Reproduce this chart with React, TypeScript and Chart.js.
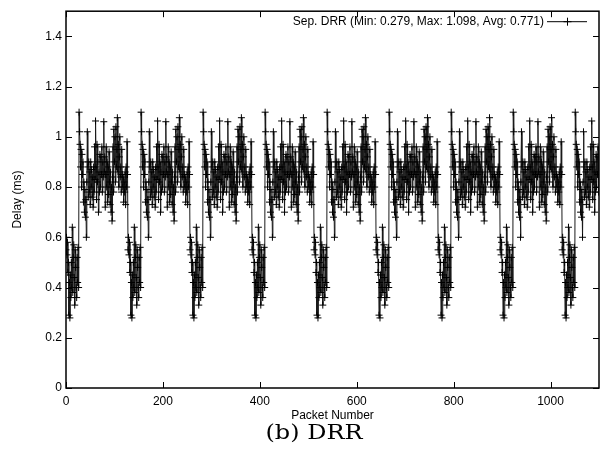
import React, { useEffect, useRef } from 'react';
import { Chart, registerables } from 'chart.js';

Chart.register(...registerables);

const seriesLabel = 'Sep. DRR (Min: 0.279, Max: 1.098, Avg: 0.771)';
const xTitle = 'Packet Number';
const yTitle = 'Delay (ms)';
const caption = '(b) DRR';
const xTicks = [0, 200, 400, 600, 800, 1000];
const yTicks = [0, 0.2, 0.4, 0.6, 0.8, 1, 1.2, 1.4];
const xMax = 1100;
const yMax = 1.5;

// delay per packet (ms), packet 0..1099 (pattern repeats every 128 packets)
const delays: number[] = [
  // packets 0-127
  0.55,0.60,0.53,0.58,0.46,0.50,0.29,0.42,0.279,0.45,0.36,0.50,0.40,0.64,0.38,0.52,
  0.57,0.44,0.33,0.55,0.48,0.40,0.36,0.52,0.42,0.56,0.40,1.098,1.02,0.97,0.88,0.95,
  0.80,0.93,0.85,0.90,0.74,0.82,0.70,0.79,0.68,0.75,0.60,0.82,1.02,0.88,0.76,0.90,
  0.78,0.86,0.73,0.90,0.80,0.87,0.76,0.84,0.72,0.88,0.78,0.96,0.83,1.063,0.88,0.75,
  0.97,0.82,0.90,0.70,0.86,0.78,0.93,0.80,0.92,0.85,0.96,0.78,0.90,0.84,1.06,0.86,
  0.92,0.72,0.85,0.96,0.80,0.90,0.74,0.88,0.77,0.94,0.82,0.73,0.86,0.70,0.80,0.665,
  0.84,0.96,0.78,1.03,0.90,1.00,0.82,1.04,0.88,0.95,1.076,0.86,0.97,0.80,0.92,1.00,
  0.84,0.88,0.78,0.95,0.85,0.80,0.84,0.74,0.82,0.78,0.86,0.73,0.88,0.80,0.98,0.85,
  // packets 128-255
  0.55,0.60,0.53,0.58,0.46,0.50,0.29,0.42,0.279,0.45,0.36,0.50,0.40,0.64,0.38,0.52,
  0.57,0.44,0.33,0.55,0.48,0.40,0.36,0.52,0.42,0.56,0.40,1.098,1.02,0.97,0.88,0.95,
  0.80,0.93,0.85,0.90,0.74,0.82,0.70,0.79,0.68,0.75,0.60,0.82,1.02,0.88,0.76,0.90,
  0.78,0.86,0.73,0.90,0.80,0.87,0.76,0.84,0.72,0.88,0.78,0.96,0.83,1.063,0.88,0.75,
  0.97,0.82,0.90,0.70,0.86,0.78,0.93,0.80,0.92,0.85,0.96,0.78,0.90,0.84,1.06,0.86,
  0.92,0.72,0.85,0.96,0.80,0.90,0.74,0.88,0.77,0.94,0.82,0.73,0.86,0.70,0.80,0.665,
  0.84,0.96,0.78,1.03,0.90,1.00,0.82,1.04,0.88,0.95,1.076,0.86,0.97,0.80,0.92,1.00,
  0.84,0.88,0.78,0.95,0.85,0.80,0.84,0.74,0.82,0.78,0.86,0.73,0.88,0.80,0.98,0.85,
  // packets 256-383
  0.55,0.60,0.53,0.58,0.46,0.50,0.29,0.42,0.279,0.45,0.36,0.50,0.40,0.64,0.38,0.52,
  0.57,0.44,0.33,0.55,0.48,0.40,0.36,0.52,0.42,0.56,0.40,1.098,1.02,0.97,0.88,0.95,
  0.80,0.93,0.85,0.90,0.74,0.82,0.70,0.79,0.68,0.75,0.60,0.82,1.02,0.88,0.76,0.90,
  0.78,0.86,0.73,0.90,0.80,0.87,0.76,0.84,0.72,0.88,0.78,0.96,0.83,1.063,0.88,0.75,
  0.97,0.82,0.90,0.70,0.86,0.78,0.93,0.80,0.92,0.85,0.96,0.78,0.90,0.84,1.06,0.86,
  0.92,0.72,0.85,0.96,0.80,0.90,0.74,0.88,0.77,0.94,0.82,0.73,0.86,0.70,0.80,0.665,
  0.84,0.96,0.78,1.03,0.90,1.00,0.82,1.04,0.88,0.95,1.076,0.86,0.97,0.80,0.92,1.00,
  0.84,0.88,0.78,0.95,0.85,0.80,0.84,0.74,0.82,0.78,0.86,0.73,0.88,0.80,0.98,0.85,
  // packets 384-511
  0.55,0.60,0.53,0.58,0.46,0.50,0.29,0.42,0.279,0.45,0.36,0.50,0.40,0.64,0.38,0.52,
  0.57,0.44,0.33,0.55,0.48,0.40,0.36,0.52,0.42,0.56,0.40,1.098,1.02,0.97,0.88,0.95,
  0.80,0.93,0.85,0.90,0.74,0.82,0.70,0.79,0.68,0.75,0.60,0.82,1.02,0.88,0.76,0.90,
  0.78,0.86,0.73,0.90,0.80,0.87,0.76,0.84,0.72,0.88,0.78,0.96,0.83,1.063,0.88,0.75,
  0.97,0.82,0.90,0.70,0.86,0.78,0.93,0.80,0.92,0.85,0.96,0.78,0.90,0.84,1.06,0.86,
  0.92,0.72,0.85,0.96,0.80,0.90,0.74,0.88,0.77,0.94,0.82,0.73,0.86,0.70,0.80,0.665,
  0.84,0.96,0.78,1.03,0.90,1.00,0.82,1.04,0.88,0.95,1.076,0.86,0.97,0.80,0.92,1.00,
  0.84,0.88,0.78,0.95,0.85,0.80,0.84,0.74,0.82,0.78,0.86,0.73,0.88,0.80,0.98,0.85,
  // packets 512-639
  0.55,0.60,0.53,0.58,0.46,0.50,0.29,0.42,0.279,0.45,0.36,0.50,0.40,0.64,0.38,0.52,
  0.57,0.44,0.33,0.55,0.48,0.40,0.36,0.52,0.42,0.56,0.40,1.098,1.02,0.97,0.88,0.95,
  0.80,0.93,0.85,0.90,0.74,0.82,0.70,0.79,0.68,0.75,0.60,0.82,1.02,0.88,0.76,0.90,
  0.78,0.86,0.73,0.90,0.80,0.87,0.76,0.84,0.72,0.88,0.78,0.96,0.83,1.063,0.88,0.75,
  0.97,0.82,0.90,0.70,0.86,0.78,0.93,0.80,0.92,0.85,0.96,0.78,0.90,0.84,1.06,0.86,
  0.92,0.72,0.85,0.96,0.80,0.90,0.74,0.88,0.77,0.94,0.82,0.73,0.86,0.70,0.80,0.665,
  0.84,0.96,0.78,1.03,0.90,1.00,0.82,1.04,0.88,0.95,1.076,0.86,0.97,0.80,0.92,1.00,
  0.84,0.88,0.78,0.95,0.85,0.80,0.84,0.74,0.82,0.78,0.86,0.73,0.88,0.80,0.98,0.85,
  // packets 640-767
  0.55,0.60,0.53,0.58,0.46,0.50,0.29,0.42,0.279,0.45,0.36,0.50,0.40,0.64,0.38,0.52,
  0.57,0.44,0.33,0.55,0.48,0.40,0.36,0.52,0.42,0.56,0.40,1.098,1.02,0.97,0.88,0.95,
  0.80,0.93,0.85,0.90,0.74,0.82,0.70,0.79,0.68,0.75,0.60,0.82,1.02,0.88,0.76,0.90,
  0.78,0.86,0.73,0.90,0.80,0.87,0.76,0.84,0.72,0.88,0.78,0.96,0.83,1.063,0.88,0.75,
  0.97,0.82,0.90,0.70,0.86,0.78,0.93,0.80,0.92,0.85,0.96,0.78,0.90,0.84,1.06,0.86,
  0.92,0.72,0.85,0.96,0.80,0.90,0.74,0.88,0.77,0.94,0.82,0.73,0.86,0.70,0.80,0.665,
  0.84,0.96,0.78,1.03,0.90,1.00,0.82,1.04,0.88,0.95,1.076,0.86,0.97,0.80,0.92,1.00,
  0.84,0.88,0.78,0.95,0.85,0.80,0.84,0.74,0.82,0.78,0.86,0.73,0.88,0.80,0.98,0.85,
  // packets 768-895
  0.55,0.60,0.53,0.58,0.46,0.50,0.29,0.42,0.279,0.45,0.36,0.50,0.40,0.64,0.38,0.52,
  0.57,0.44,0.33,0.55,0.48,0.40,0.36,0.52,0.42,0.56,0.40,1.098,1.02,0.97,0.88,0.95,
  0.80,0.93,0.85,0.90,0.74,0.82,0.70,0.79,0.68,0.75,0.60,0.82,1.02,0.88,0.76,0.90,
  0.78,0.86,0.73,0.90,0.80,0.87,0.76,0.84,0.72,0.88,0.78,0.96,0.83,1.063,0.88,0.75,
  0.97,0.82,0.90,0.70,0.86,0.78,0.93,0.80,0.92,0.85,0.96,0.78,0.90,0.84,1.06,0.86,
  0.92,0.72,0.85,0.96,0.80,0.90,0.74,0.88,0.77,0.94,0.82,0.73,0.86,0.70,0.80,0.665,
  0.84,0.96,0.78,1.03,0.90,1.00,0.82,1.04,0.88,0.95,1.076,0.86,0.97,0.80,0.92,1.00,
  0.84,0.88,0.78,0.95,0.85,0.80,0.84,0.74,0.82,0.78,0.86,0.73,0.88,0.80,0.98,0.85,
  // packets 896-1023
  0.55,0.60,0.53,0.58,0.46,0.50,0.29,0.42,0.279,0.45,0.36,0.50,0.40,0.64,0.38,0.52,
  0.57,0.44,0.33,0.55,0.48,0.40,0.36,0.52,0.42,0.56,0.40,1.098,1.02,0.97,0.88,0.95,
  0.80,0.93,0.85,0.90,0.74,0.82,0.70,0.79,0.68,0.75,0.60,0.82,1.02,0.88,0.76,0.90,
  0.78,0.86,0.73,0.90,0.80,0.87,0.76,0.84,0.72,0.88,0.78,0.96,0.83,1.063,0.88,0.75,
  0.97,0.82,0.90,0.70,0.86,0.78,0.93,0.80,0.92,0.85,0.96,0.78,0.90,0.84,1.06,0.86,
  0.92,0.72,0.85,0.96,0.80,0.90,0.74,0.88,0.77,0.94,0.82,0.73,0.86,0.70,0.80,0.665,
  0.84,0.96,0.78,1.03,0.90,1.00,0.82,1.04,0.88,0.95,1.076,0.86,0.97,0.80,0.92,1.00,
  0.84,0.88,0.78,0.95,0.85,0.80,0.84,0.74,0.82,0.78,0.86,0.73,0.88,0.80,0.98,0.85,
  // packets 1024-1099
  0.55,0.60,0.53,0.58,0.46,0.50,0.29,0.42,0.279,0.45,0.36,0.50,0.40,0.64,0.38,0.52,
  0.57,0.44,0.33,0.55,0.48,0.40,0.36,0.52,0.42,0.56,0.40,1.098,1.02,0.97,0.88,0.95,
  0.80,0.93,0.85,0.90,0.74,0.82,0.70,0.79,0.68,0.75,0.60,0.82,1.02,0.88,0.76,0.90,
  0.78,0.86,0.73,0.90,0.80,0.87,0.76,0.84,0.72,0.88,0.78,0.96,0.83,1.063,0.88,0.75,
  0.97,0.82,0.90,0.70,0.86,0.78,0.93,0.80,0.92,0.85,0.96,0.78,
];

const FONT = '"Liberation Sans", Arial, Helvetica, sans-serif';

const framePlugin = {
  id: 'gnuplotFrame',
  afterDraw(chart: any) {
    const { ctx, chartArea: a, scales } = chart;
    const xs = scales.x;
    const ys = scales.y;
    ctx.save();
    ctx.strokeStyle = '#000';
    ctx.lineWidth = 1;
    ctx.beginPath();
    for (const v of xTicks) {
      const px = Math.round(xs.getPixelForValue(v)) + 0.5;
      ctx.moveTo(px, a.bottom);
      ctx.lineTo(px, a.bottom - 6);
      ctx.moveTo(px, a.top);
      ctx.lineTo(px, a.top + 6);
    }
    for (const v of yTicks) {
      const py = Math.round(ys.getPixelForValue(v)) + 0.5;
      ctx.moveTo(a.left, py);
      ctx.lineTo(a.left + 6, py);
      ctx.moveTo(a.right, py);
      ctx.lineTo(a.right - 6, py);
    }
    ctx.stroke();
    ctx.lineWidth = 1.5;
    ctx.strokeRect(a.left, a.top, a.right - a.left, a.bottom - a.top);

    // key (legend) inside the plot, top right
    const ky = a.top + 10;
    ctx.font = '12px ' + FONT;
    ctx.fillStyle = '#000';
    ctx.textAlign = 'right';
    ctx.textBaseline = 'middle';
    ctx.fillText(seriesLabel, a.right - 55, ky);
    ctx.lineWidth = 1;
    ctx.beginPath();
    ctx.moveTo(a.right - 52, ky + 0.5);
    ctx.lineTo(a.right - 12, ky + 0.5);
    const cx = a.right - 32;
    ctx.moveTo(cx + 0.5, ky - 3.5);
    ctx.lineTo(cx + 0.5, ky + 4.5);
    ctx.moveTo(cx - 3.5, ky + 0.5);
    ctx.lineTo(cx + 4.5, ky + 0.5);
    ctx.stroke();

    // caption
    ctx.font = '21px "DejaVu Serif", "Liberation Serif", serif';
    ctx.textAlign = 'center';
    ctx.textBaseline = 'middle';
    const w = ctx.measureText(caption).width;
    const sx = w > 0 ? 97 / w : 1;
    ctx.translate(314, 434);
    ctx.scale(sx, 1);
    ctx.fillText(caption, 0, 0);
    ctx.restore();
  },
};

export default function App() {
  const ref = useRef<HTMLCanvasElement>(null);
  useEffect(() => {
    if (!ref.current) return;
    const points = delays.map((d, i) => ({ x: i, y: d }));
    const chart = new Chart(ref.current, {
      type: 'line',
      data: {
        datasets: [
          {
            label: seriesLabel,
            data: points,
            borderColor: '#1a1a1a',
            borderWidth: 1,
            pointStyle: 'cross',
            pointRadius: 3.5,
            pointBorderColor: '#000',
            pointBorderWidth: 1,
            pointBackgroundColor: '#000',
            fill: false,
            tension: 0,
          },
        ],
      },
      options: {
        responsive: false,
        animation: false,
        events: [],
        layout: { padding: { left: 0, top: 6, right: 4, bottom: 31 } },
        plugins: { legend: { display: false }, tooltip: { enabled: false } },
        scales: {
          x: {
            type: 'linear',
            min: 0,
            max: xMax,
            afterBuildTicks: (s: any) => {
              s.ticks = xTicks.map((v) => ({ value: v }));
            },
            afterFit: (s: any) => {
              s.height = 38;
            },
            grid: { display: false, drawTicks: false },
            border: { display: false },
            ticks: {
              autoSkip: false,
              maxRotation: 0,
              padding: 6,
              color: '#000',
              font: { family: FONT, size: 12 },
              callback: (v: any) => String(v),
            },
            title: {
              display: true,
              text: xTitle,
              color: '#000',
              font: { family: FONT, size: 12 },
              padding: { top: 0, bottom: 3 },
            },
          },
          y: {
            type: 'linear',
            min: 0,
            max: yMax,
            afterBuildTicks: (s: any) => {
              s.ticks = yTicks.map((v) => ({ value: v }));
            },
            afterFit: (s: any) => {
              s.width = 66;
            },
            grid: { display: false, drawTicks: false },
            border: { display: false },
            ticks: {
              autoSkip: false,
              padding: 4,
              color: '#000',
              font: { family: FONT, size: 12 },
              callback: (v: any) => String(v),
            },
            title: {
              display: true,
              text: yTitle,
              color: '#000',
              font: { family: FONT, size: 12 },
              padding: { top: 10, bottom: 0 },
            },
          },
        },
      },
      plugins: [framePlugin],
    } as any);
    return () => chart.destroy();
  }, []);
  return (
    <div style={{ position: 'fixed', left: 0, top: 0, width: 604, height: 457, background: '#fff' }}>
      <canvas ref={ref} width={604} height={457} style={{ display: 'block', width: 604, height: 457 }} />
    </div>
  );
}
